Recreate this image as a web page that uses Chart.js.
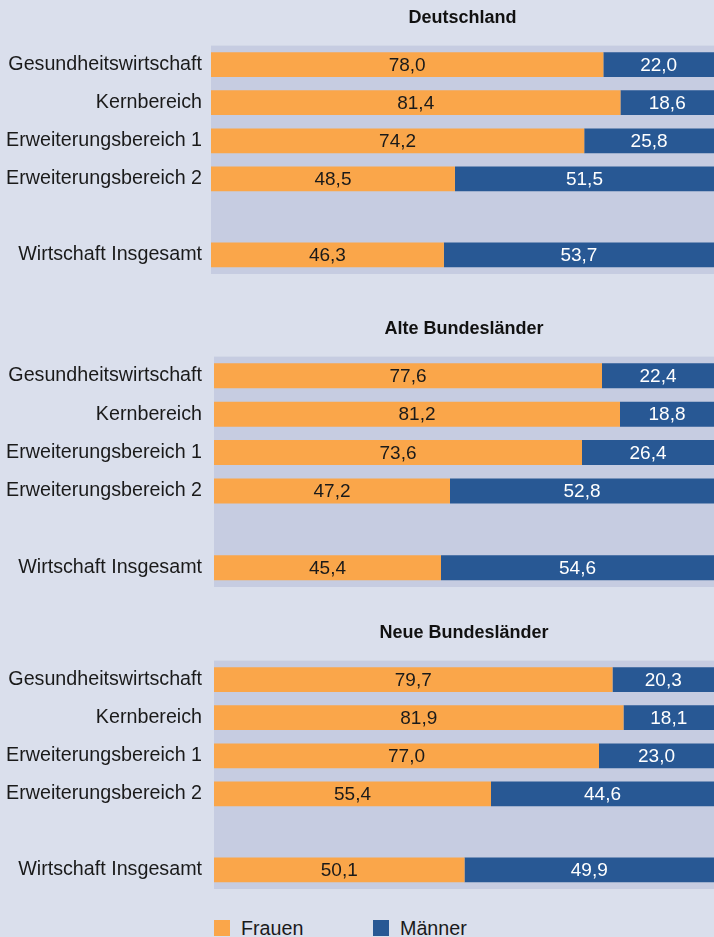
<!DOCTYPE html>
<html>
<head>
<meta charset="utf-8">
<script src="https://cdn.jsdelivr.net/npm/chart.js@4/dist/chart.umd.min.js"></script>
<style>
  html, body { margin: 0; padding: 0; }
  body { width: 714px; height: 937px; background: #dadfec; position: relative; overflow: hidden;
         font-family: "Liberation Sans", Arial, sans-serif; }
  .panel { position: absolute; left: 0; width: 714px; }
  .legend { position: absolute; top: 918px; left: 0; width: 714px; height: 19px; font-size: 19.7px; color: #1a1a1a; }
  .legend .sq { position: absolute; top: 2px; width: 16px; height: 16px; }
  .legend .lbl { position: absolute; top: 0; line-height: 20px; }
</style>
</head>
<body>
<div class="panel" id="p1" style="top:0px;height:274px;"><canvas id="c1"></canvas></div>
<div class="panel" id="p2" style="top:311px;height:276px;"><canvas id="c2"></canvas></div>
<div class="panel" id="p3" style="top:615px;height:274px;"><canvas id="c3"></canvas></div>
<div class="legend">
  <span class="sq" style="left:214px;background:#faa64a;"></span><span class="lbl" style="left:241px;">Frauen</span>
  <span class="sq" style="left:373px;background:#285894;"></span><span class="lbl" style="left:400px;">Männer</span>
</div>
<script>
// ---- data ----
const categories = ["Gesundheitswirtschaft", "Kernbereich", "Erweiterungsbereich 1", "Erweiterungsbereich 2", "", "Wirtschaft Insgesamt"];
const panelTitles = ["Deutschland", "Alte Bundesländer", "Neue Bundesländer"];
const seriesNames = ["Frauen", "Männer"];
const frauenDeutschland = [78.0, 81.4, 74.2, 48.5, null, 46.3];
const maennerDeutschland = [22.0, 18.6, 25.8, 51.5, null, 53.7];
const frauenAlt = [77.6, 81.2, 73.6, 47.2, null, 45.4];
const maennerAlt = [22.4, 18.8, 26.4, 52.8, null, 54.6];
const frauenNeu = [79.7, 81.9, 77.0, 55.4, null, 50.1];
const maennerNeu = [20.3, 18.1, 23.0, 44.6, null, 49.9];

// ---- styles ----
const FONT = '"Liberation Sans", Arial, sans-serif';
const ORANGE = '#faa64a';
const BLUE = '#285894';
const PLOT_BG = '#c6cce1';

const plotBg = {
  id: 'plotBg',
  beforeDatasetsDraw(chart) {
    const { ctx, chartArea: a } = chart;
    ctx.save();
    ctx.fillStyle = PLOT_BG;
    ctx.fillRect(a.left, a.top, a.right - a.left, a.bottom - a.top);
    ctx.restore();
  }
};

const valueLabels = {
  id: 'valueLabels',
  afterDatasetsDraw(chart) {
    const { ctx } = chart;
    ctx.save();
    ctx.font = '19px ' + FONT;
    ctx.textAlign = 'center';
    ctx.textBaseline = 'middle';
    chart.data.datasets.forEach((ds, i) => {
      const meta = chart.getDatasetMeta(i);
      ctx.fillStyle = i === 0 ? '#1a1a1a' : '#ffffff';
      meta.data.forEach((bar, j) => {
        const v = ds.data[j];
        if (v === null || v === undefined) return;
        const p = bar.getProps(['x', 'y', 'base'], true);
        ctx.fillText(v.toFixed(1).replace('.', ','), (p.x + p.base) / 2, p.y + 1);
      });
    });
    ctx.restore();
  }
};

function makeChart(id, title, frauen, maenner, leftWidth) {
  return new Chart(document.getElementById(id), {
    type: 'bar',
    data: {
      labels: categories,
      datasets: [
        { label: seriesNames[0], data: frauen, backgroundColor: ORANGE, borderWidth: 0, barPercentage: 0.65, categoryPercentage: 1.0 },
        { label: seriesNames[1], data: maenner, backgroundColor: BLUE, borderWidth: 0, barPercentage: 0.65, categoryPercentage: 1.0 }
      ]
    },
    options: {
      indexAxis: 'y',
      responsive: true,
      maintainAspectRatio: false,
      animation: false,
      layout: { padding: 0 },
      scales: {
        x: { stacked: true, min: 0, max: 100, display: false },
        y: {
          stacked: true,
          grid: { display: false, drawTicks: false },
          border: { display: false },
          ticks: { color: '#1a1a1a', font: { family: FONT, size: 19.7 }, padding: leftWidth - 202 },
          afterFit(s) { s.width = leftWidth; s.paddingTop = 0; s.paddingBottom = 0; }
        }
      },
      plugins: {
        legend: { display: false },
        tooltip: { enabled: false },
        title: {
          display: true, text: title, fullSize: false, color: '#111111',
          font: { family: FONT, size: 18, weight: 'bold', lineHeight: 1.2 },
          padding: { top: 7, bottom: 17 }
        }
      }
    },
    plugins: [plotBg, valueLabels]
  });
}

makeChart('c1', panelTitles[0], frauenDeutschland, maennerDeutschland, 211);
makeChart('c2', panelTitles[1], frauenAlt, maennerAlt, 214);
makeChart('c3', panelTitles[2], frauenNeu, maennerNeu, 214);
</script>
</body>
</html>
